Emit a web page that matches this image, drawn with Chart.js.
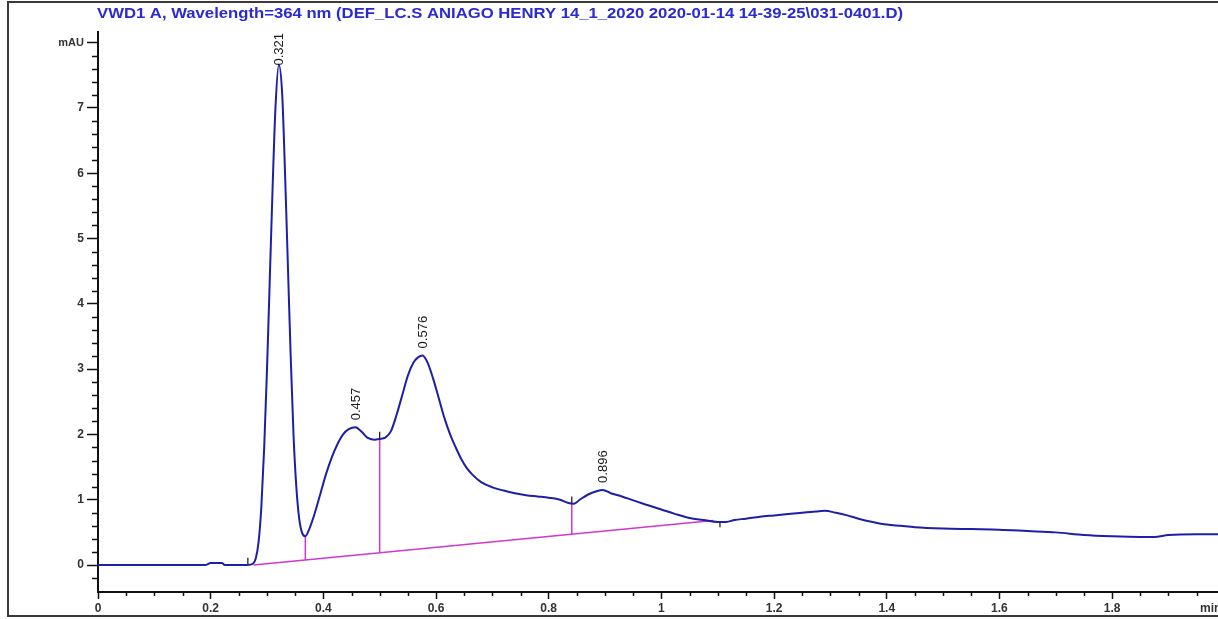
<!DOCTYPE html>
<html>
<head>
<meta charset="utf-8">
<script src="https://cdn.jsdelivr.net/npm/chart.js@4.4.1/dist/chart.umd.min.js"></script>
<style>
  html, body { margin: 0; padding: 0; background: #fff; overflow: hidden; }
  canvas { display: block; }
</style>
</head>
<body>
<canvas id="chrom" width="1218" height="619"></canvas>
<script>
// Detector signal: retention time (min) and absorbance (mAU)
const signalTime = [
  0.00, 0.19, 0.20, 0.22, 0.225, 0.265, 0.275, 0.280, 0.285, 0.290, 0.295, 0.300,
  0.305, 0.310, 0.315, 0.321, 0.327, 0.332, 0.337, 0.342, 0.347, 0.352, 0.357, 0.362,
  0.368, 0.375, 0.385, 0.395, 0.405, 0.415, 0.425, 0.435, 0.445, 0.457, 0.468, 0.478,
  0.490, 0.500, 0.510, 0.520, 0.530, 0.540, 0.550, 0.560, 0.568, 0.576, 0.585, 0.595,
  0.605, 0.615, 0.625, 0.635, 0.645, 0.655, 0.665, 0.680, 0.700, 0.720, 0.740, 0.760,
  0.780, 0.800, 0.820, 0.835, 0.845, 0.855, 0.870, 0.885, 0.896, 0.910, 0.930, 0.950,
  0.975, 1.000, 1.025, 1.050, 1.075, 1.100, 1.115, 1.130, 1.150, 1.175, 1.200, 1.225,
  1.250, 1.275, 1.290, 1.310, 1.330, 1.350, 1.375, 1.400, 1.425, 1.450, 1.500, 1.550,
  1.600, 1.650, 1.700, 1.750, 1.800, 1.850, 1.875, 1.900, 1.950, 1.990
];
const signalMAU = [
  0.00, 0.00, 0.03, 0.03, 0.00, 0.00, 0.02, 0.10, 0.35, 0.90, 1.80, 3.00,
  4.40, 5.80, 7.00, 7.66, 7.20, 6.00, 4.60, 3.20, 2.00, 1.20, 0.72, 0.50,
  0.44, 0.55, 0.80, 1.10, 1.40, 1.65, 1.85, 2.00, 2.08, 2.11, 2.04, 1.95,
  1.92, 1.93, 1.95, 2.05, 2.30, 2.60, 2.90, 3.10, 3.18, 3.21, 3.10, 2.85,
  2.55, 2.25, 2.00, 1.80, 1.62, 1.48, 1.38, 1.27, 1.19, 1.14, 1.10, 1.07,
  1.05, 1.03, 1.00, 0.95, 0.94, 1.00, 1.08, 1.13, 1.15, 1.10, 1.05, 0.99,
  0.92, 0.85, 0.78, 0.72, 0.69, 0.66, 0.66, 0.69, 0.71, 0.74, 0.76, 0.78,
  0.80, 0.82, 0.83, 0.80, 0.76, 0.71, 0.66, 0.62, 0.60, 0.58, 0.56, 0.55,
  0.54, 0.52, 0.50, 0.46, 0.44, 0.43, 0.43, 0.46, 0.47, 0.47
];

// Integration baseline (start and end points)
const baselineTime = [0.276, 1.092];
const baselineMAU  = [0.00, 0.68];

// Drop lines between peaks: time and signal height at the split
const dropTime = [0.368, 0.500, 0.841];
const dropTop  = [0.44, 1.93, 0.95];

// Integration event marks
const eventTime = [0.266, 0.500, 0.841, 1.104];
const eventLow  = [0.00, 1.93, 0.95, 0.58];
const eventHigh = [0.11, 2.04, 1.05, 0.66];

// Peak retention times and apex heights
const peakTime   = [0.321, 0.457, 0.576, 0.896];
const peakHeight = [7.66, 2.11, 3.21, 1.15];

// Axis ticks
const xTickValues = [0, 0.2, 0.4, 0.6, 0.8, 1, 1.2, 1.4, 1.6, 1.8];
const xTickLabels = ['0', '0.2', '0.4', '0.6', '0.8', '1', '1.2', '1.4', '1.6', '1.8'];
const xUnitLabel = 'min';
const xUnitAt = 1.975;
const yTickValues = [0, 1, 2, 3, 4, 5, 6, 7];
const yTickLabels = ['0', '1', '2', '3', '4', '5', '6', '7'];
const yUnitLabel = 'mAU';
const yUnitAt = 8;

const titleText = 'VWD1 A, Wavelength=364 nm (DEF_LC.S ANIAGO HENRY 14_1_2020 2020-01-14 14-39-25\\031-0401.D)';

const X_MIN = 0, X_MAX = 1.988;
const Y_MIN = -0.413, Y_MAX = 8.162;

function baselineAt(t) {
  const f = (t - baselineTime[0]) / (baselineTime[1] - baselineTime[0]);
  return baselineMAU[0] + f * (baselineMAU[1] - baselineMAU[0]);
}

const signalData = signalTime.map((t, i) => ({ x: t, y: signalMAU[i] }));
const baselineData = baselineTime.map((t, i) => ({ x: t, y: baselineMAU[i] }));
const dropData = [];
dropTime.forEach((t, i) => {
  dropData.push({ x: t, y: baselineAt(t) }, { x: t, y: dropTop[i] }, { x: t, y: null });
});
const eventData = [];
eventTime.forEach((t, i) => {
  eventData.push({ x: t, y: eventLow[i] }, { x: t, y: eventHigh[i] }, { x: t, y: null });
});

const labelFor = (values, labels) => v => {
  const i = values.findIndex(u => Math.abs(u - v) < 1e-9);
  return i >= 0 ? labels[i] : '';
};
const xLabel = labelFor(xTickValues.concat([xUnitAt]), xTickLabels.concat([xUnitLabel]));
const yLabel = labelFor(yTickValues.concat([yUnitAt]), yTickLabels.concat([yUnitLabel]));

// Frame, title, minor ticks and peak annotations
const decorations = {
  id: 'decorations',
  afterDraw(chart) {
    const ctx = chart.ctx;
    const area = chart.chartArea;
    const xs = chart.scales.x, ys = chart.scales.y;
    ctx.save();

    // outer frame
    ctx.strokeStyle = '#3a3a3a';
    ctx.lineWidth = 2;
    ctx.beginPath();
    ctx.moveTo(1230, 2);
    ctx.lineTo(8, 2);
    ctx.lineTo(8, 616);
    ctx.lineTo(1230, 616);
    ctx.stroke();

    // title, fitted to its line
    ctx.fillStyle = '#2a2ad0';
    ctx.font = 'bold 15px "Liberation Sans", Arial, sans-serif';
    ctx.textBaseline = 'alphabetic';
    ctx.textAlign = 'left';
    const w = ctx.measureText(titleText).width;
    ctx.save();
    ctx.translate(97, 18);
    ctx.scale(806 / w, 1);
    ctx.fillText(titleText, 0, 0);
    ctx.restore();

    // minor ticks
    ctx.strokeStyle = '#111';
    ctx.lineWidth = 1.5;
    ctx.beginPath();
    for (let k = 1; k * 0.05 < X_MAX; k++) {
      if (k % 4 === 0) continue;
      const px = Math.round(xs.getPixelForValue(k * 0.05)) + 0.5;
      ctx.moveTo(px, area.bottom);
      ctx.lineTo(px, area.bottom + 4);
    }
    for (let k = -1; k * 0.2 < Y_MAX - 0.1; k++) {
      if (k % 5 === 0) continue;
      const py = Math.round(ys.getPixelForValue(k * 0.2)) + 0.5;
      ctx.moveTo(area.left - 6, py);
      ctx.lineTo(area.left, py);
    }
    ctx.stroke();

    // peak retention time labels
    ctx.fillStyle = '#1a1a1a';
    ctx.font = '13px "Liberation Sans", Arial, sans-serif';
    ctx.textBaseline = 'middle';
    ctx.textAlign = 'left';
    peakTime.forEach((t, i) => {
      const txt = t.toFixed(3);
      const len = ctx.measureText(txt).width;
      const px = xs.getPixelForValue(t);
      let bottom = ys.getPixelForValue(peakHeight[i]) - 7;
      if (bottom - len < area.top + 1) bottom = area.top + 1 + len;
      ctx.save();
      ctx.translate(px + 1, bottom);
      ctx.rotate(-Math.PI / 2);
      ctx.fillText(txt, 0, 0);
      ctx.restore();
    });
    ctx.restore();
  }
};

const tickFont = { family: '"Liberation Sans", Arial, sans-serif', size: 12, weight: 'bold' };
const unitFont = { family: '"Liberation Sans", Arial, sans-serif', size: 11, weight: 'bold' };

new Chart(document.getElementById('chrom'), {
  type: 'line',
  data: {
    datasets: [
      {
        label: 'Signal',
        data: signalData,
        borderColor: '#1e1ea6',
        borderWidth: 2,
        pointRadius: 0,
        cubicInterpolationMode: 'monotone',
        fill: false
      },
      {
        label: 'Baseline',
        data: baselineData,
        borderColor: '#d038d0',
        borderWidth: 1.5,
        pointRadius: 0,
        fill: false
      },
      {
        label: 'Drop lines',
        data: dropData,
        borderColor: '#d038d0',
        borderWidth: 1.5,
        pointRadius: 0,
        spanGaps: false,
        fill: false
      },
      {
        label: 'Events',
        data: eventData,
        borderColor: '#111',
        borderWidth: 1.2,
        pointRadius: 0,
        spanGaps: false,
        fill: false
      }
    ]
  },
  options: {
    responsive: false,
    animation: false,
    devicePixelRatio: 1,
    layout: { padding: { top: 32, left: 0, right: 0, bottom: 0 } },
    plugins: {
      legend: { display: false },
      tooltip: { enabled: false },
      title: { display: false }
    },
    scales: {
      x: {
        type: 'linear',
        min: X_MIN,
        max: X_MAX,
        afterBuildTicks: s => { s.ticks = xTickValues.concat([xUnitAt]).map(v => ({ value: v })); },
        afterFit: s => { s.height = 27; s.paddingLeft = 0; s.paddingRight = 0; },
        grid: {
          drawOnChartArea: false,
          drawTicks: true,
          tickLength: 7,
          tickWidth: 1.5,
          tickColor: c => (c.tick && Math.abs(c.tick.value - xUnitAt) < 1e-9) ? 'rgba(0,0,0,0)' : '#111'
        },
        border: { display: true, color: '#111', width: 2 },
        ticks: {
          autoSkip: false,
          maxRotation: 0,
          padding: 2,
          color: '#333',
          font: tickFont,
          callback: v => xLabel(v)
        }
      },
      y: {
        type: 'linear',
        min: Y_MIN,
        max: Y_MAX,
        afterBuildTicks: s => { s.ticks = yTickValues.concat([yUnitAt]).map(v => ({ value: v })); },
        afterFit: s => { s.width = 98; s.paddingTop = 0; s.paddingBottom = 0; },
        grid: {
          drawOnChartArea: false,
          drawTicks: true,
          tickLength: 11,
          tickWidth: 1.5,
          tickColor: '#111'
        },
        border: { display: true, color: '#111', width: 2 },
        ticks: {
          autoSkip: false,
          padding: 3,
          color: '#333',
          font: c => (c.tick && c.tick.value === yUnitAt) ? unitFont : tickFont,
          callback: v => yLabel(v)
        }
      }
    }
  },
  plugins: [decorations]
});
</script>
</body>
</html>
